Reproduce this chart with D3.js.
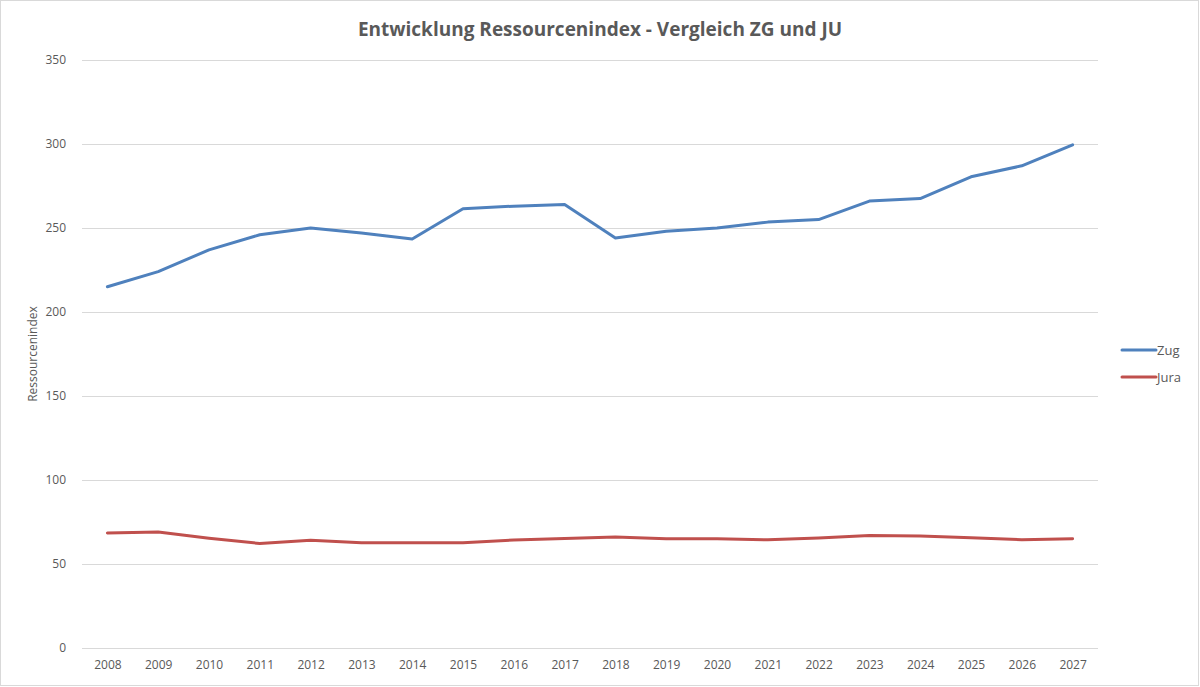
<!DOCTYPE html>
<html>
<head>
<meta charset="utf-8">
<script src="https://cdn.jsdelivr.net/npm/d3@7"></script>
<style>
  body { margin: 0; background: #fff; }
  text { font-family: "Open Sans", "Noto Sans", sans-serif; fill: #595959; }
</style>
</head>
<body>
<svg id="chart"></svg>
<script>
const years = ["2008","2009","2010","2011","2012","2013","2014","2015","2016","2017",
               "2018","2019","2020","2021","2022","2023","2024","2025","2026","2027"]
const zug  = [215, 224, 237, 246, 250, 247, 243.5, 261.5, 263, 264,
              244, 248, 250, 253.5, 255, 266, 267.5, 280.5, 287, 299.5]
const jura = [68.5, 69, 65.3, 62.2, 64.2, 62.7, 62.7, 62.7, 64.3, 65.2,
              66, 65, 65, 64.4, 65.5, 67, 66.6, 65.6, 64.5, 65]
const yTicks = [0, 50, 100, 150, 200, 250, 300, 350]
const series = [
  {name: "Zug", values: zug, color: "#4F81BD"},
  {name: "Jura", values: jura, color: "#C0504D"}
]

const width = 1200, height = 687
const margin = {top: 60, right: 102, bottom: 39, left: 82}

const svg = d3.select("#chart")
  .attr("width", width)
  .attr("height", height)

svg.append("rect")
  .attr("x", 0.5).attr("y", 0.5)
  .attr("width", width - 2).attr("height", height - 2)
  .attr("fill", "#fff")
  .attr("stroke", "#d9d9d9")

const x = d3.scalePoint()
  .domain(years)
  .range([margin.left, width - margin.right])
  .padding(0.5)

const y = d3.scaleLinear()
  .domain([0, 350])
  .range([height - margin.bottom, margin.top])

// grid lines
svg.append("g")
  .selectAll("line")
  .data(yTicks)
  .join("line")
  .attr("x1", margin.left)
  .attr("x2", width - margin.right)
  .attr("y1", d => y(d) + 0.5)
  .attr("y2", d => y(d) + 0.5)
  .attr("stroke", "#d9d9d9")
  .attr("stroke-width", 1)

// y axis labels
const yAxis = svg.append("g")
  .attr("transform", `translate(${margin.left - 16},0)`)
  .call(d3.axisLeft(y).tickValues(yTicks).tickSize(0).tickPadding(0))
yAxis.select(".domain").remove()
yAxis.selectAll("text").style("font-size", "12px").attr("fill", "#595959")

// x axis labels
const xAxis = svg.append("g")
  .attr("transform", `translate(0,${height - margin.bottom})`)
  .call(d3.axisBottom(x).tickSize(0).tickPadding(12))
xAxis.select(".domain").remove()
xAxis.selectAll("text").style("font-size", "12px").attr("fill", "#595959")

// lines
const line = d3.line()
  .x((d, i) => x(years[i]))
  .y(d => y(d))

svg.append("g")
  .selectAll("path")
  .data(series)
  .join("path")
  .attr("d", d => line(d.values))
  .attr("fill", "none")
  .attr("stroke", d => d.color)
  .attr("stroke-width", 3)
  .attr("stroke-linejoin", "round")
  .attr("stroke-linecap", "round")

// title
svg.append("text")
  .attr("x", 600)
  .attr("y", 36)
  .attr("text-anchor", "middle")
  .style("font-size", "19px")
  .style("font-weight", "bold")
  .text("Entwicklung Ressourcenindex - Vergleich ZG und JU")

// y axis title
svg.append("text")
  .attr("transform", `translate(37,${(margin.top + height - margin.bottom) / 2}) rotate(-90)`)
  .attr("text-anchor", "middle")
  .style("font-size", "12px")
  .text("Ressourcenindex")

// legend
const legend = svg.append("g")
  .selectAll("g")
  .data(series)
  .join("g")
  .attr("transform", (d, i) => `translate(1122,${350 + i * 27})`)

legend.append("line")
  .attr("x1", 0).attr("x2", 34)
  .attr("stroke", d => d.color)
  .attr("stroke-width", 3)
  .attr("stroke-linecap", "round")

legend.append("text")
  .attr("x", 35)
  .attr("dy", "0.35em")
  .style("font-size", "13px")
  .text(d => d.name)
</script>
</body>
</html>
